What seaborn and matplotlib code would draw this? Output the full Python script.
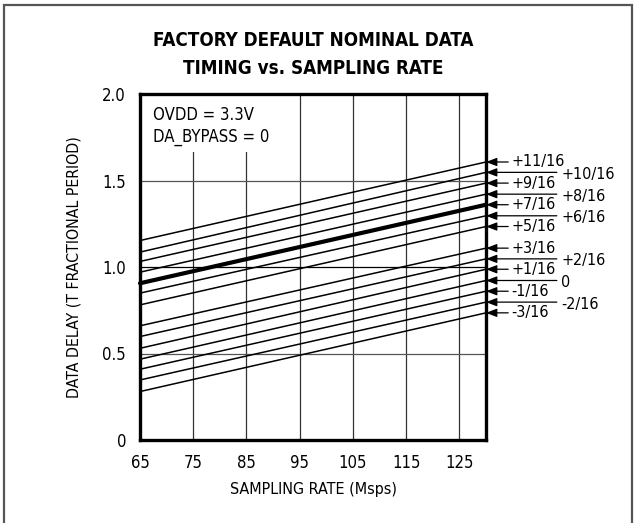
import matplotlib
matplotlib.use("Agg")
import matplotlib.pyplot as plt
import matplotlib.patches as mpatches
from matplotlib import font_manager
import pandas as pd
import seaborn as sns

# data
rate = [65, 130]
offsets = ["+11/16", "+10/16", "+9/16", "+8/16", "+7/16", "+6/16", "+5/16",
           "+3/16", "+2/16", "+1/16", "0", "-1/16", "-2/16", "-3/16"]
delay_65 = [1.153, 1.086, 1.032, 0.970, 0.906, 0.849, 0.781,
            0.660, 0.598, 0.530, 0.467, 0.409, 0.347, 0.280]
delay_130 = [1.607, 1.547, 1.485, 1.421, 1.360, 1.296, 1.234,
             1.109, 1.047, 0.987, 0.922, 0.860, 0.797, 0.735]
x_ticks = [65, 75, 85, 95, 105, 115, 125]
y_ticks = [0, 0.5, 1.0, 1.5, 2.0]
y_ticklabels = ["0", "0.5", "1.0", "1.5", "2.0"]
bold_offset = "+7/16"

rows = []
for name, a, b in zip(offsets, delay_65, delay_130):
    rows.append({"rate": rate[0], "delay": a, "offset": name})
    rows.append({"rate": rate[1], "delay": b, "offset": name})
df = pd.DataFrame(rows)

sns.set_style("white")
# look for a condensed face; fall back to Liberation Sans
cond = [f for f in font_manager.fontManager.ttflist
        if ("Condensed" in f.name or "Narrow" in f.name
            or str(f.stretch) in ("condensed", "semi-condensed", "500"))]
family = "Liberation Sans"
stretch = "normal"
for f in cond:
    if f.name == "DejaVu Sans" and str(f.stretch) != "normal":
        family, stretch = "DejaVu Sans", "condensed"
        break
    if "Narrow" in f.name or "Condensed" in f.name:
        family = f.name
        break
plt.rcParams["font.family"] = [family, "DejaVu Sans"]
plt.rcParams["font.stretch"] = stretch
for key in ["text.color", "axes.labelcolor", "xtick.color", "ytick.color"]:
    plt.rcParams[key] = "black"
narrow = family != "Liberation Sans"
fs = 12 if narrow else 11
small_fs = 11.5 if narrow else 10.5
title_fs = 13.5 if narrow else 13

fig = plt.figure(figsize=(6.38, 5.23), dpi=100)
ax = fig.add_axes([140 / 638, 83 / 523, 346 / 638, 346 / 523])

for name in offsets:
    sub = df[df["offset"] == name]
    lw = 3.0 if name == bold_offset else 1.1
    sns.lineplot(data=sub, x="rate", y="delay", color="black", lw=lw,
                 ax=ax, zorder=3, clip_on=False)

ax.set_xlim(65, 130)
ax.set_ylim(0, 2.0)
ax.set_xticks(x_ticks)
ax.set_yticks(y_ticks)
ax.set_yticklabels(y_ticklabels)
ax.tick_params(axis="x", length=0, labelsize=fs, pad=10)
ax.tick_params(axis="y", length=0, labelsize=fs, pad=10)
for side in ax.spines.values():
    side.set_linewidth(2.4)
    side.set_color("black")
    side.set_zorder(5)

ax.set_axisbelow(True)
for xv in x_ticks[1:]:
    ax.axvline(xv, color="#333333", lw=0.9, zorder=1)
for yv in [0.5, 1.5]:
    ax.axhline(yv, color="#555555", lw=0.9, zorder=1)
ax.axhline(1.0, color="black", lw=0.9, zorder=1)

# white box behind the condition text
ax.add_patch(mpatches.Rectangle((65, 1.665), 24.5, 0.335, facecolor="white",
                                edgecolor="none", zorder=2))
ax.text(67.4, 1.879, "OVDD = 3.3V", fontsize=fs, va="center", ha="left", zorder=4)
ax.text(67.4, 1.751, "DA_BYPASS = 0", fontsize=fs, va="center", ha="left", zorder=4)

ax.set_xlabel("SAMPLING RATE (Msps)", fontsize=fs - 0.5, labelpad=7)
ax.set_ylabel("DATA DELAY (T FRACTIONAL PERIOD)", fontsize=fs - 0.7, labelpad=15)

# arrows and labels on the right
for name, v in zip(offsets, delay_130):
    num = int(name.lstrip("+-").split("/")[0])
    is_odd = num % 2 == 1
    tail = 16 if is_odd else 51
    tx = 18 if is_odd else 54
    ax.annotate("", xy=(130, v), xycoords="data",
                xytext=(tail, 0), textcoords="offset points",
                arrowprops=dict(arrowstyle="-|>,head_length=0.65,head_width=0.25",
                                color="black", lw=0.9, shrinkA=0, shrinkB=0),
                annotation_clip=False, zorder=6)
    ax.annotate(name, xy=(130, v), xycoords="data",
                xytext=(tx, 0 if is_odd else -1.5), textcoords="offset points",
                fontsize=small_fs, va="center", ha="left", annotation_clip=False)

fig.text(313 / 638, 1 - 40 / 523, "FACTORY DEFAULT NOMINAL DATA",
         ha="center", va="center", fontsize=title_fs, fontweight="bold")
fig.text(313 / 638, 1 - 68 / 523, "TIMING vs. SAMPLING RATE",
         ha="center", va="center", fontsize=title_fs, fontweight="bold")

# outer frame
fig.add_artist(mpatches.Rectangle((4 / 638, -0.05), 628 / 638, 1.04,
                                  transform=fig.transFigure, fill=False,
                                  edgecolor="#555555", lw=1.6))

fig.savefig("out.png", dpi=100)
